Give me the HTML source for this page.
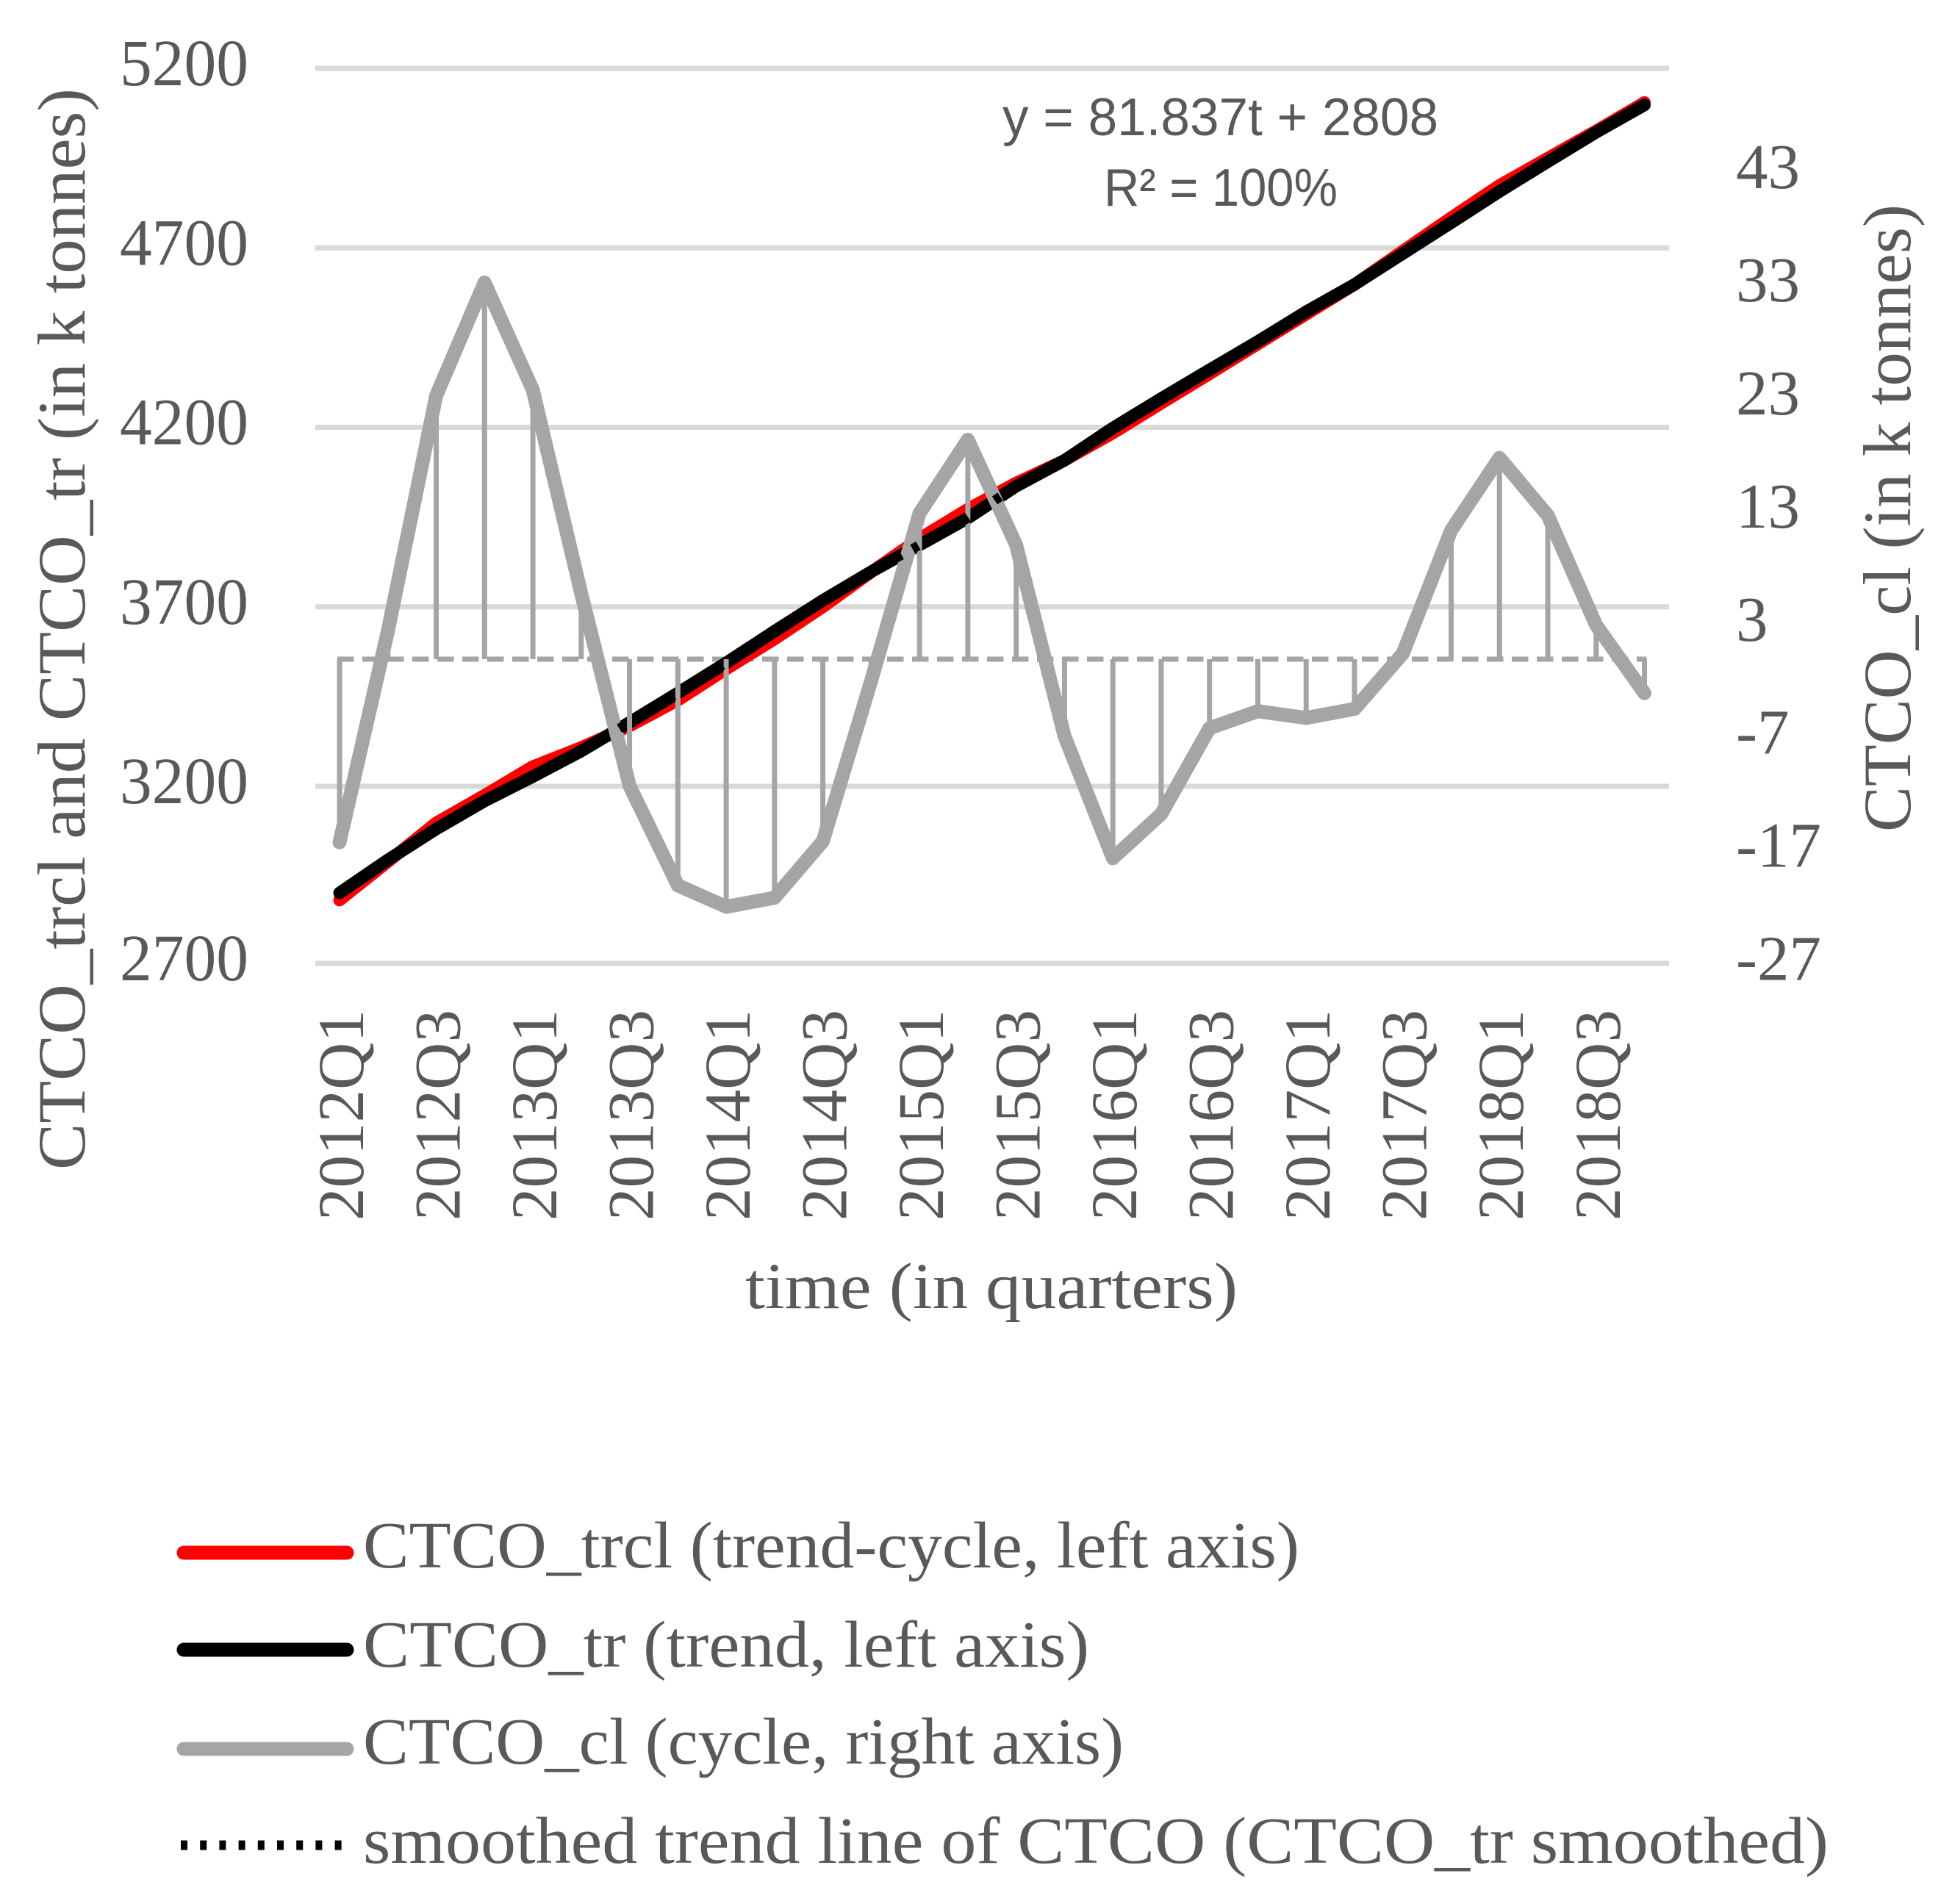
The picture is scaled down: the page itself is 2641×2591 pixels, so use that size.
<!DOCTYPE html>
<html lang="en">
<head>
<meta charset="utf-8">
<title>CTCO trend-cycle chart</title>
<style>
html,body{margin:0;padding:0;background:#fff;}
svg{display:block;}
text{font-family:"Liberation Serif","DejaVu Serif",serif;fill:#595959;}
.sans{font-family:"Liberation Sans","DejaVu Sans",sans-serif;}
</style>
</head>
<body>
<svg id="chart" xmlns="http://www.w3.org/2000/svg" width="2641" height="2591" viewBox="0 0 2641 2591"></svg>
<script>
const quarters = ["2012Q1","2012Q2","2012Q3","2012Q4","2013Q1","2013Q2","2013Q3","2013Q4","2014Q1","2014Q2","2014Q3","2014Q4","2015Q1","2015Q2","2015Q3","2015Q4","2016Q1","2016Q2","2016Q3","2016Q4","2017Q1","2017Q2","2017Q3","2017Q4","2018Q1","2018Q2","2018Q3","2018Q4"];
const trendCycleValues = [2883,2990,3098,3175,3255,3308,3368,3440,3527,3610,3700,3797,3890,3972,4045,4108,4184,4267,4349,4432,4515,4598,4691,4784,4874,4950,5026,5105];
const trendValues = [2903,2995,3081,3159,3227,3298,3378,3460,3544,3632,3718,3798,3872,3947,4036,4108,4198,4280,4360,4439,4522,4598,4684,4770,4857,4940,5022,5098];
const cycleValues = [-16.2,2.5,23.3,33.3,23.8,5.8,-11.2,-20,-21.9,-21.1,-16.1,-1.9,12.9,19.4,10.1,-6.8,-17.6,-13.7,-6.1,-4.6,-5.2,-4.4,0.5,11.4,17.8,12.7,3,-3];
const leftTicks = [5200,4700,4200,3700,3200,2706.7];
const leftTickLabels = ["5200","4700","4200","3700","3200","2700"];
const rightTicks = [43,33,23,13,3,-7,-17,-27];
const rightTickLabels = ["43","33","23","13","3","-7","-17","-27"];

const svg = document.getElementById('chart');
const NS = 'http://www.w3.org/2000/svg';

function make(tag, attrs, text) {
  const el = document.createElementNS(NS, tag);
  for (const k in attrs) el.setAttribute(k, attrs[k]);
  if (text !== undefined) el.textContent = text;
  svg.appendChild(el);
  return el;
}

const xStart = 462, xStep = 65.76;
function xScale(i) { return xStart + i * xStep; }
function yLeft(v) { return 1070 - (v - 3200) * 0.4885; }
function yRight(v) { return 897 - v * 15.39; }
function pathFrom(values, yFn) {
  return values.map(function (v, i) { return (i ? 'L' : 'M') + xScale(i).toFixed(1) + ' ' + yFn(v).toFixed(1); }).join(' ');
}

/* gridlines and left axis */
leftTicks.forEach(function (t, i) {
  const grid = make('line', {x1: 429, x2: 2271, y1: yLeft(t), y2: yLeft(t), stroke: '#d9d9d9', 'stroke-width': 7});
  
  
  const lab = make('text', {x: 163, y: yLeft(t) + 23, 'font-size': 90, textLength: 175, lengthAdjust: 'spacingAndGlyphs'}, leftTickLabels[i]);
  
  
});

/* right axis */
rightTicks.forEach(function (t, i) {
  const label = rightTickLabels[i];
  const lab = make('text', {x: 2362, y: yRight(t) + 21, 'font-size': 87}, label);
  
  
});

/* x tick labels, every second quarter */
quarters.forEach(function (q, i) {
  if (i % 2 !== 0) return;
  const x = xScale(i) + 32;
  const lab = make('text', {x: x, y: 1661, 'font-size': 89, transform: 'rotate(-90 ' + x + ' 1661)', textLength: 287, lengthAdjust: 'spacingAndGlyphs'}, q);
  
  
});

/* dashed zero line */
const zeroLine = make('line', {x1: xScale(0) - 3, x2: xScale(cycleValues.length - 1) + 3, y1: yRight(0), y2: yRight(0), stroke: '#a5a5a5', 'stroke-width': 7, 'stroke-dasharray': '22.5 11.5'});



/* series */
const redLine = make('path', {d: pathFrom(trendCycleValues, yLeft), fill: 'none', stroke: '#ff0000', 'stroke-width': 17, 'stroke-linejoin': 'round', 'stroke-linecap': 'round'});



const blackLine = make('path', {d: pathFrom(trendValues, yLeft), fill: 'none', stroke: '#000000', 'stroke-width': 17, 'stroke-linejoin': 'round', 'stroke-linecap': 'round'});



/* stems from zero to cycle value */
cycleValues.forEach(function (v, i) {
  const stem = make('line', {x1: xScale(i), x2: xScale(i), y1: yRight(0), y2: yRight(v), stroke: '#a5a5a5', 'stroke-width': 7});
  
  
});

const grayLine = make('path', {d: pathFrom(cycleValues, yRight), fill: 'none', stroke: '#a5a5a5', 'stroke-width': 19, 'stroke-linejoin': 'round', 'stroke-linecap': 'round'});



const dotLine = make('path', {d: pathFrom(trendValues, yLeft), fill: 'none', stroke: '#000000', 'stroke-width': 13, 'stroke-dasharray': '9 17'});



/* annotation */
const eq = make('text', {x: 1364, y: 184, 'font-size': 72, textLength: 593, lengthAdjust: 'spacingAndGlyphs', class: 'sans'}, 'y = 81.837t + 2808');


const r2 = make('text', {x: 1502, y: 280, 'font-size': 72, textLength: 318, lengthAdjust: 'spacingAndGlyphs', class: 'sans'}, 'R² = 100%');



/* axis titles */
const leftTitle = make('text', {x: 115, y: 1592, 'font-size': 92, transform: 'rotate(-90 115 1592)', textLength: 1472, lengthAdjust: 'spacingAndGlyphs'}, 'CTCO_trcl and CTCO_tr (in k tonnes)');


const rightTitle = make('text', {x: 2599, y: 1132, 'font-size': 92, transform: 'rotate(-90 2599 1132)', textLength: 854, lengthAdjust: 'spacingAndGlyphs'}, 'CTCO_cl (in k tonnes)');


const xTitle = make('text', {x: 1014, y: 1780, 'font-size': 89, textLength: 670, lengthAdjust: 'spacingAndGlyphs'}, 'time (in quarters)');



/* legend */
const l1 = make('line', {x1: 250, x2: 472, y1: 2113, y2: 2113, stroke: '#ff0000', 'stroke-width': 19, 'stroke-linecap': 'round'});


const t1 = make('text', {x: 494, y: 2133, 'font-size': 90, textLength: 1274, lengthAdjust: 'spacingAndGlyphs'}, 'CTCO_trcl (trend-cycle, left axis)');



const l2 = make('line', {x1: 250, x2: 472, y1: 2245, y2: 2245, stroke: '#000000', 'stroke-width': 19, 'stroke-linecap': 'round'});


const t2 = make('text', {x: 494, y: 2268, 'font-size': 90, textLength: 988, lengthAdjust: 'spacingAndGlyphs'}, 'CTCO_tr (trend, left axis)');



const l3 = make('line', {x1: 250, x2: 472, y1: 2380, y2: 2380, stroke: '#a5a5a5', 'stroke-width': 19, 'stroke-linecap': 'round'});


const t3 = make('text', {x: 494, y: 2400, 'font-size': 90, textLength: 1035, lengthAdjust: 'spacingAndGlyphs'}, 'CTCO_cl (cycle, right axis)');



const l4 = make('line', {x1: 246, x2: 470, y1: 2511, y2: 2511, stroke: '#000000', 'stroke-width': 13, 'stroke-dasharray': '9 17.2'});


const t4 = make('text', {x: 494, y: 2535, 'font-size': 90, textLength: 1994, lengthAdjust: 'spacingAndGlyphs'}, 'smoothed trend line of CTCO (CTCO_tr smoothed)');


</script>
</body>
</html>
